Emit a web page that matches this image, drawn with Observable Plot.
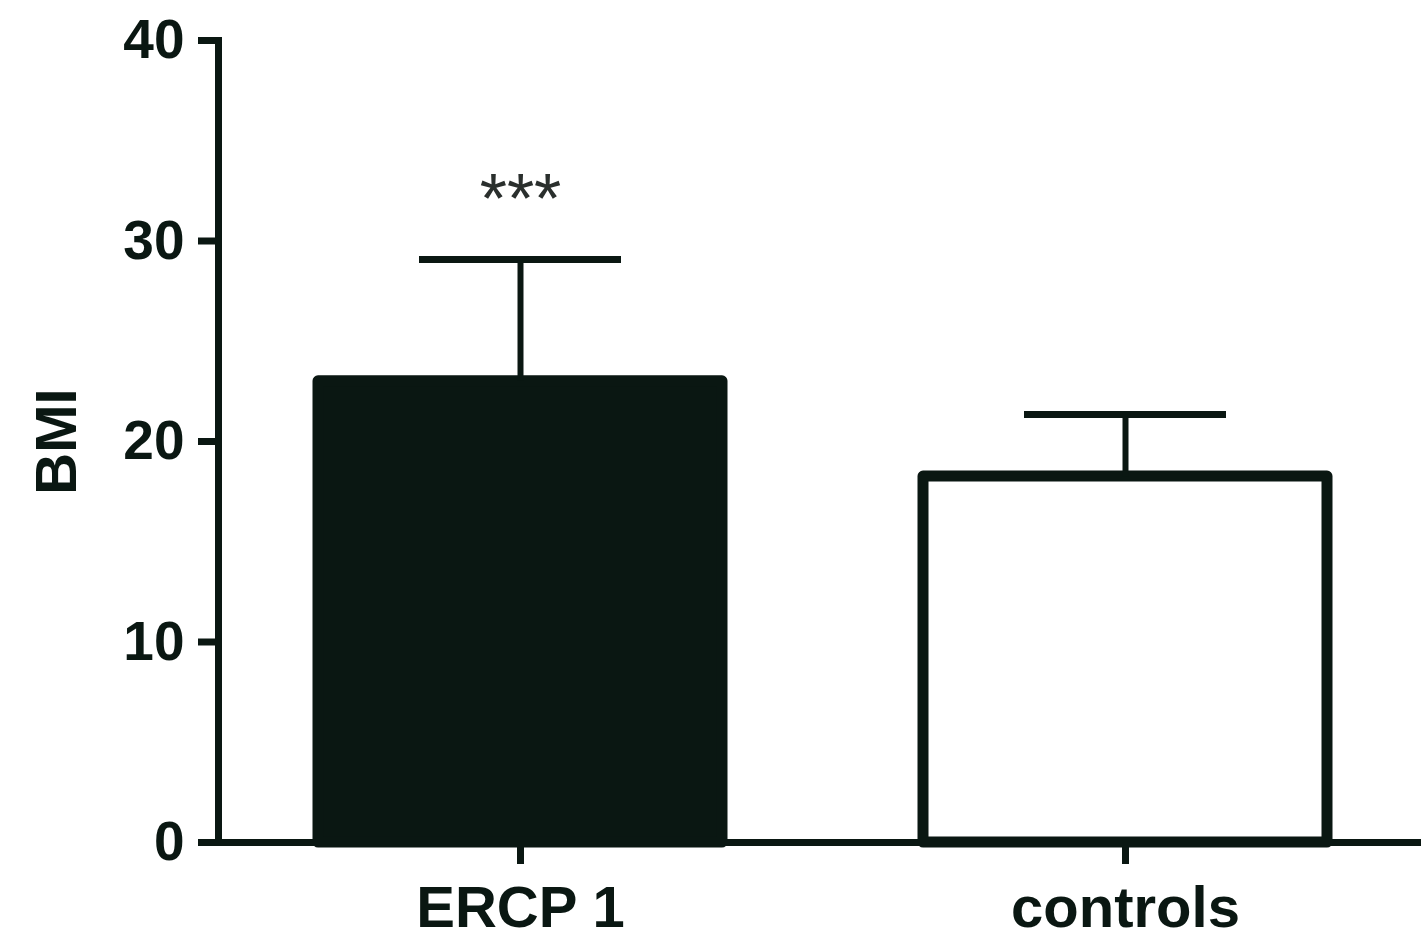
<!DOCTYPE html>
<html>
<head>
<meta charset="utf-8">
<script src="https://cdn.jsdelivr.net/npm/d3@7"></script>
<script src="https://cdn.jsdelivr.net/npm/@observablehq/plot@0.6"></script>
<style>
  html, body { margin: 0; padding: 0; background: white; }
  #chart { width: 1421px; height: 935px; overflow: hidden; }
</style>
</head>
<body>
<div id="chart"></div>
<script>
// Data
const categories = ["ERCP 1", "controls"];
const means = [23.0, 18.25];
const upperErrors = [6.08, 3.1];
const barFills = ["#0a1712", "#ffffff"];
const significance = ["***", ""];
const yTicks = [0, 10, 20, 30, 40];
const yLabel = "BMI";

const ink = "#0a1712";
const data = categories.map((c, i) => ({
  cat: c, mean: means[i], err: upperErrors[i], fill: barFills[i], sig: significance[i]
}));

const chart = Plot.plot({
  width: 1421,
  height: 935,
  marginTop: 40,
  marginBottom: 93,
  marginLeft: 218,
  marginRight: 0,
  style: { fontFamily: "'Liberation Sans', Arial, sans-serif", color: ink, background: "white", overflow: "visible" },
  x: { domain: categories, range: [218, 1428], paddingInner: 0.332, paddingOuter: 0.166, label: null, axis: null },
  y: { domain: [0, 40], label: null, axis: null },
  marks: [
    Plot.barY(data, { x: "cat", y: "mean", fill: "fill", stroke: ink, strokeWidth: 11, strokeLinejoin: "round" }),
    Plot.ruleX(data, { x: "cat", y1: "mean", y2: d => d.mean + d.err, stroke: ink, strokeWidth: 6 }),
    Plot.tickY(data, { x: "cat", y: d => d.mean + d.err, stroke: ink, strokeWidth: 7, insetLeft: 101, insetRight: 101 }),
    Plot.ruleY([0], { stroke: ink, strokeWidth: 7 }),
    Plot.frame({ anchor: "left", stroke: ink, strokeWidth: 7, strokeLinecap: "square" }),
    Plot.axisY({ ticks: yTicks, tickSize: 20, tickPadding: 14, fontSize: 55, fontWeight: "bold", stroke: ink, strokeWidth: 7, fill: ink, label: null, tickFormat: d => String(d) }),
    Plot.axisX({ tickSize: 22, tickPadding: 21, fontSize: 58, fontWeight: "bold", stroke: ink, strokeWidth: 7, fill: ink, label: null }),
    Plot.text(data.filter(d => d.sig), { x: "cat", y: 32.0, text: "sig", fontSize: 70, fill: "#2a2f2d" }),
    Plot.text([yLabel], { frameAnchor: "left", textAnchor: "middle", dx: -161, rotate: -90, fontSize: 58, fontWeight: "bold", fill: ink })
  ]
});

document.getElementById("chart").appendChild(chart);
</script>
</body>
</html>
